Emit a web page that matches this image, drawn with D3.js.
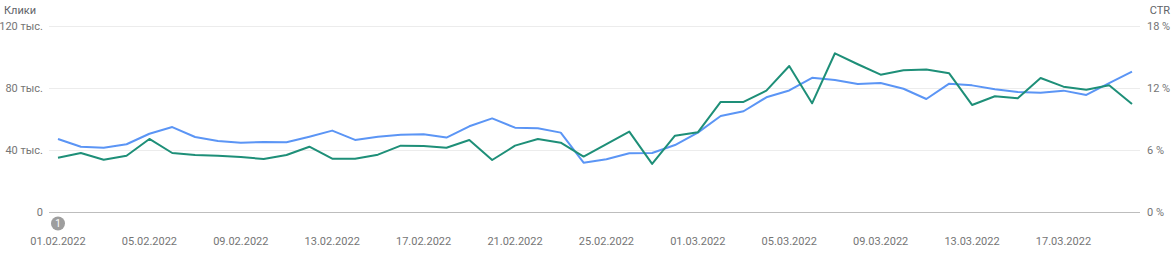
<!DOCTYPE html>
<html>
<head>
<meta charset="utf-8">
<script src="https://cdn.jsdelivr.net/npm/d3@7"></script>
<style>
  body { margin: 0; background: #fff; }
  text { font-family: Roboto, "Noto Sans", sans-serif; }
</style>
</head>
<body>
<div id="chart"></div>
<script>
// daily dates, 01.02.2022 .. 20.03.2022
const startDate = "2022-02-01"
const dayCount = 48

// clicks, thousands (left axis)
const clicks = [47.1, 42.1, 41.5, 43.7, 50.5, 54.8, 48.4, 45.8, 44.7, 45.2,
  45.0, 48.6, 52.5, 46.5, 48.6, 49.9, 50.1, 48.0, 55.3, 60.4,
  54.4, 54.0, 51.2, 31.8, 34.0, 37.9, 38.1, 43.2, 51.2, 61.9,
  65.0, 74.0, 78.4, 86.6, 85.2, 82.6, 83.2, 79.5, 72.9, 82.8,
  81.7, 79.2, 77.4, 77.0, 78.3, 75.5, 83.2, 90.5]

// CTR, percent (right axis)
const ctr = [5.26, 5.71, 5.06, 5.45, 7.07, 5.71, 5.52, 5.45, 5.32, 5.13,
  5.52, 6.32, 5.16, 5.16, 5.55, 6.42, 6.39, 6.22, 6.97, 5.03,
  6.42, 7.07, 6.71, 5.36, 6.58, 7.78, 4.65, 7.39, 7.71, 10.65,
  10.65, 11.74, 14.13, 10.52, 15.36, 14.30, 13.29, 13.71, 13.78, 13.42,
  10.36, 11.20, 11.00, 12.97, 12.13, 11.84, 12.26, 10.45]

const clickTicks = [0, 40, 80, 120]
const ctrTicks = [0, 6, 12, 18]
const annotations = [{ day: 0, label: "1" }]

const width = 1176, height = 260
const margin = { top: 26, right: 44, bottom: 48, left: 58 }
const gridLeft = 49, gridRight = 1140

const parse = d3.timeParse("%Y-%m-%d")
const t0 = parse(startDate)
const dates = d3.range(dayCount).map(i => d3.timeDay.offset(t0, i))

const svg = d3.select("#chart").append("svg")
  .attr("width", width)
  .attr("height", height)

const x = d3.scaleTime()
  .domain([dates[0], dates[dates.length - 1]])
  .range([margin.left, width - margin.right])

const yL = d3.scaleLinear().domain([0, 120]).range([height - margin.bottom, margin.top])
const yR = d3.scaleLinear().domain([0, 18]).range([height - margin.bottom, margin.top])

// gridlines
svg.append("g")
  .selectAll("line")
  .data(clickTicks)
  .join("line")
    .attr("x1", gridLeft).attr("x2", gridRight)
    .attr("y1", d => yL(d)).attr("y2", d => yL(d))
    .attr("stroke", d => d === 0 ? "#bdbdbd" : "#ececec")
    .attr("stroke-width", 1)
    .attr("shape-rendering", "crispEdges")

// left axis labels
svg.append("g")
  .selectAll("text")
  .data(clickTicks)
  .join("text")
    .attr("x", 43)
    .attr("y", d => yL(d))
    .attr("dy", "0.35em")
    .attr("text-anchor", "end")
    .attr("font-size", 11)
    .attr("fill", "#757575")
    .text(d => d === 0 ? "0" : d + " тыс.")

// right axis labels
svg.append("g")
  .selectAll("text")
  .data(ctrTicks)
  .join("text")
    .attr("x", 1147)
    .attr("y", d => yR(d))
    .attr("dy", "0.35em")
    .attr("font-size", 11)
    .attr("fill", "#757575")
    .text(d => d + " %")

// axis titles
svg.append("text")
  .attr("x", 4).attr("y", 14)
  .attr("font-size", 11)
  .attr("fill", "#5f6368")
  .text("Клики")
svg.append("text")
  .attr("x", 1170).attr("y", 14)
  .attr("text-anchor", "end")
  .attr("font-size", 11)
  .attr("fill", "#5f6368")
  .text("CTR")

// x axis labels, every 4 days
const fmt = d3.timeFormat("%d.%m.%Y")
const xTicks = dates.filter((d, i) => i % 4 === 0)
svg.append("g")
  .selectAll("text")
  .data(xTicks)
  .join("text")
    .attr("x", d => x(d))
    .attr("y", 241)
    .attr("dy", "0.35em")
    .attr("text-anchor", "middle")
    .attr("font-size", 11)
    .attr("fill", "#757575")
    .text(fmt)

// lines
const clickLine = d3.line()
  .x((d, i) => x(dates[i]))
  .y(d => yL(d))
const ctrLine = d3.line()
  .x((d, i) => x(dates[i]))
  .y(d => yR(d))

svg.append("path")
  .datum(clicks)
  .attr("d", clickLine)
  .attr("fill", "none")
  .attr("stroke", "#5b95f5")
  .attr("stroke-width", 2)
  .attr("stroke-linejoin", "round")

svg.append("path")
  .datum(ctr)
  .attr("d", ctrLine)
  .attr("fill", "none")
  .attr("stroke", "#1e8f78")
  .attr("stroke-width", 2)
  .attr("stroke-linejoin", "round")

// annotation marker
const ann = svg.append("g")
  .selectAll("g")
  .data(annotations)
  .join("g")
    .attr("transform", d => "translate(" + x(dates[d.day]) + ",223.5)")
ann.append("circle")
  .attr("r", 7)
  .attr("fill", "#9e9e9e")
ann.append("text")
  .attr("dy", "0.35em")
  .attr("text-anchor", "middle")
  .attr("font-size", 10)
  .attr("fill", "#fff")
  .text(d => d.label)
</script>
</body>
</html>
